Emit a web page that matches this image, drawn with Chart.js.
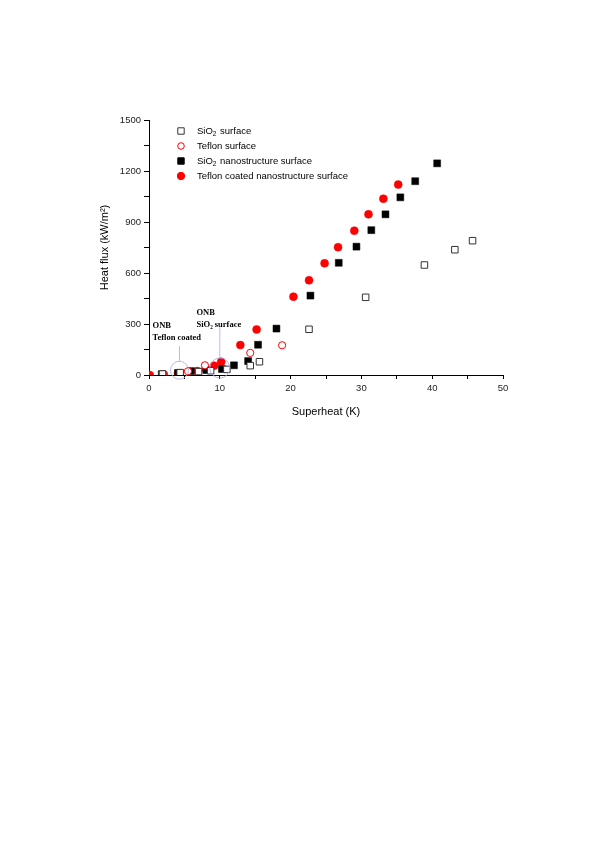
<!DOCTYPE html>
<html lang="en">
<head>
  <meta charset="UTF-8" />
  <title>Heat flux vs superheat</title>
  <script src="https://cdn.jsdelivr.net/npm/chart.js"></script>
  <style>
    body { margin: 0; background: #fff; }
    canvas { position: absolute; left: 0; top: 0; }
  </style>
</head>
<body>
  <canvas id="boiling" width="600" height="849"></canvas>

  <script>
    // SiO2 surface (open squares)
    const sioX = [1.9, 4.4, 7.0, 8.7, 11.0, 14.3, 15.6, 22.6, 30.6, 38.9, 43.2, 45.7];
    const sioY = [6, 14, 20, 25, 33, 55, 78, 269, 457, 647, 737, 790];

    // Teflon surface (open circles)
    const tefX = [2.0, 5.5, 7.9, 14.3, 18.8];
    const tefY = [3, 22, 57, 130, 175];

    // SiO2 nanostructure surface (filled squares)
    const sioNanoX = [1.8, 4.1, 5.9, 8.1, 10.3, 12.0, 14.0, 15.4, 18.0, 22.8, 26.8, 29.3, 31.4, 33.4, 35.5, 37.6, 40.7];
    const sioNanoY = [5, 12, 23, 29, 35, 57, 82, 178, 273, 467, 660, 755, 852, 945, 1045, 1140, 1245];

    // Teflon coated nanostructure surface (filled circles)
    const tefNanoX = [0.1, 2.1, 4.1, 6.8, 8.0, 9.2, 10.2, 12.9, 15.2, 20.4, 22.6, 24.8, 26.7, 29.0, 31.0, 33.1, 35.2];
    const tefNanoY = [0, 3, 10, 23, 35, 55, 78, 176, 268, 461, 557, 657, 752, 849, 945, 1037, 1120];

    const seriesNames = ["SiO2 surface", "Teflon surface", "SiO2 nanostructure surface", "Teflon coated nanostructure surface"];
    const xTicks = [0, 10, 20, 30, 40, 50];
    const yTicks = [0, 300, 600, 900, 1200, 1500];

    function pts(xs, ys) {
      return xs.map((x, i) => ({ x: x, y: ys[i] }));
    }

    const RED = "#ff0000";
    const SANS = "'Liberation Sans', Arial, sans-serif";

    // legend drawn inside the plot, with subscript 2 like the original
    const insideLegend = {
      id: "insideLegend",
      afterDatasetsDraw(chart) {
        const ctx = chart.ctx;
        const x0 = chart.chartArea.left + 32;
        const y0 = chart.chartArea.top + 11;
        const step = 15;
        ctx.save();
        chart.data.datasets.forEach((ds, i) => {
          const y = y0 + i * step;
          ctx.beginPath();
          if (ds.pointStyle === "rect") {
            ctx.rect(x0 - 3.2, y - 3.2, 6.4, 6.4);
          } else {
            ctx.arc(x0, y, ds.pointRadius - 0.3, 0, Math.PI * 2);
          }
          ctx.fillStyle = ds.pointBackgroundColor;
          ctx.fill();
          ctx.lineWidth = 1;
          ctx.strokeStyle = ds.pointBorderColor;
          ctx.stroke();

          ctx.fillStyle = "#000";
          ctx.textBaseline = "middle";
          ctx.textAlign = "left";
          let tx = x0 + 16;
          const name = seriesNames[i];
          ctx.font = "9.5px " + SANS;
          if (name.startsWith("SiO2")) {
            ctx.fillText("SiO", tx, y);
            tx += ctx.measureText("SiO").width;
            ctx.font = "6.5px " + SANS;
            ctx.fillText("2", tx, y + 3);
            tx += ctx.measureText("2").width + 1;
            ctx.font = "9.5px " + SANS;
            ctx.fillText(name.slice(4), tx, y);
          } else {
            ctx.fillText(name, tx, y);
          }
        });
        ctx.restore();
      }
    };

    // ONB markers: circle around the onset point, leader line, label
    const onbNotes = {
      id: "onbNotes",
      afterDatasetsDraw(chart) {
        const ctx = chart.ctx;
        const xs = chart.scales.x, ys = chart.scales.y;
        const notes = [
          { cx: 4.3, cy: 28, r: 9, lineTop: 170, lines: ["ONB", "Teflon coated"], tx: 0.5, ty: 288 },
          { cx: 10.0, cy: 41, r: 10, lineTop: 282, lines: ["ONB", "SiO\u2082 surface"], tx: 6.7, ty: 365 }
        ];
        ctx.save();
        notes.forEach(n => {
          const px = xs.getPixelForValue(n.cx);
          const py = ys.getPixelForValue(n.cy);
          ctx.strokeStyle = "#a8a8e8";
          ctx.lineWidth = 0.8;
          ctx.beginPath();
          ctx.arc(px, py, n.r, 0, Math.PI * 2);
          ctx.stroke();
          ctx.beginPath();
          ctx.moveTo(px, py - n.r);
          ctx.lineTo(px, ys.getPixelForValue(n.lineTop));
          ctx.stroke();

          ctx.fillStyle = "#000";
          ctx.font = "bold 8.5px 'Liberation Serif', 'Times New Roman', serif";
          ctx.textAlign = "left";
          ctx.textBaseline = "middle";
          const lx = xs.getPixelForValue(n.tx);
          const ly = ys.getPixelForValue(n.ty);
          n.lines.forEach((t, k) => ctx.fillText(t, lx, ly + k * 12));
        });
        ctx.restore();
      }
    };

    new Chart(document.getElementById("boiling").getContext("2d"), {
      type: "scatter",
      data: {
        datasets: [
          {
            label: seriesNames[0],
            data: pts(sioX, sioY),
            pointStyle: "rect",
            pointRadius: 4.6,
            pointBackgroundColor: "#ffffff",
            pointBorderColor: "#333333",
            pointBorderWidth: 1
          },
          {
            label: seriesNames[1],
            data: pts(tefX, tefY),
            pointStyle: "circle",
            pointRadius: 3.6,
            pointBackgroundColor: "#ffffff",
            pointBorderColor: RED,
            pointBorderWidth: 1
          },
          {
            label: seriesNames[2],
            data: pts(sioNanoX, sioNanoY),
            pointStyle: "rect",
            pointRadius: 4.9,
            pointBackgroundColor: "#000000",
            pointBorderColor: "#000000",
            pointBorderWidth: 0.5
          },
          {
            label: seriesNames[3],
            data: pts(tefNanoX, tefNanoY),
            pointStyle: "circle",
            pointRadius: 4,
            pointBackgroundColor: RED,
            pointBorderColor: RED,
            pointBorderWidth: 0.5
          }
        ]
      },
      options: {
        responsive: false,
        animation: false,
        layout: { padding: { left: 90, right: 97, top: 120, bottom: 424 } },
        plugins: {
          legend: { display: false },
          tooltip: { enabled: false }
        },
        scales: {
          x: {
            type: "linear",
            min: 0,
            max: 50,
            afterFit: s => { s.height = 50; },
            afterBuildTicks: s => {
              s.ticks = [];
              for (let v = 0; v <= 50; v += 5) s.ticks.push({ value: v });
            },
            border: { display: true, color: "#000", width: 1 },
            grid: { display: true, drawOnChartArea: false, drawTicks: true, tickLength: 4, color: "#000", tickColor: "#000" },
            ticks: {
              padding: 4,
              color: "#222",
              font: { family: SANS, size: 9.5 },
              maxRotation: 0,
              autoSkip: false,
              callback: v => xTicks.includes(v) ? v : ""
            },
            title: {
              display: true,
              text: "Superheat (K)",
              color: "#000",
              font: { family: SANS, size: 11 },
              padding: { top: 0, bottom: 6 }
            }
          },
          y: {
            type: "linear",
            min: 0,
            max: 1500,
            afterFit: s => { s.width = 59; },
            afterBuildTicks: s => {
              s.ticks = [];
              for (let v = 0; v <= 1500; v += 150) s.ticks.push({ value: v });
            },
            border: { display: true, color: "#000", width: 1 },
            grid: { display: true, drawOnChartArea: false, drawTicks: true, tickLength: 5, color: "#000", tickColor: "#000" },
            ticks: {
              padding: 3,
              color: "#222",
              font: { family: SANS, size: 9.5 },
              autoSkip: false,
              callback: v => yTicks.includes(v) ? v : ""
            },
            title: {
              display: true,
              text: "Heat flux (kW/m\u00b2)",
              color: "#000",
              font: { family: SANS, size: 11 },
              padding: { top: 8, bottom: 0 }
            }
          }
        }
      },
      plugins: [insideLegend, onbNotes]
    });
  </script>
</body>
</html>
